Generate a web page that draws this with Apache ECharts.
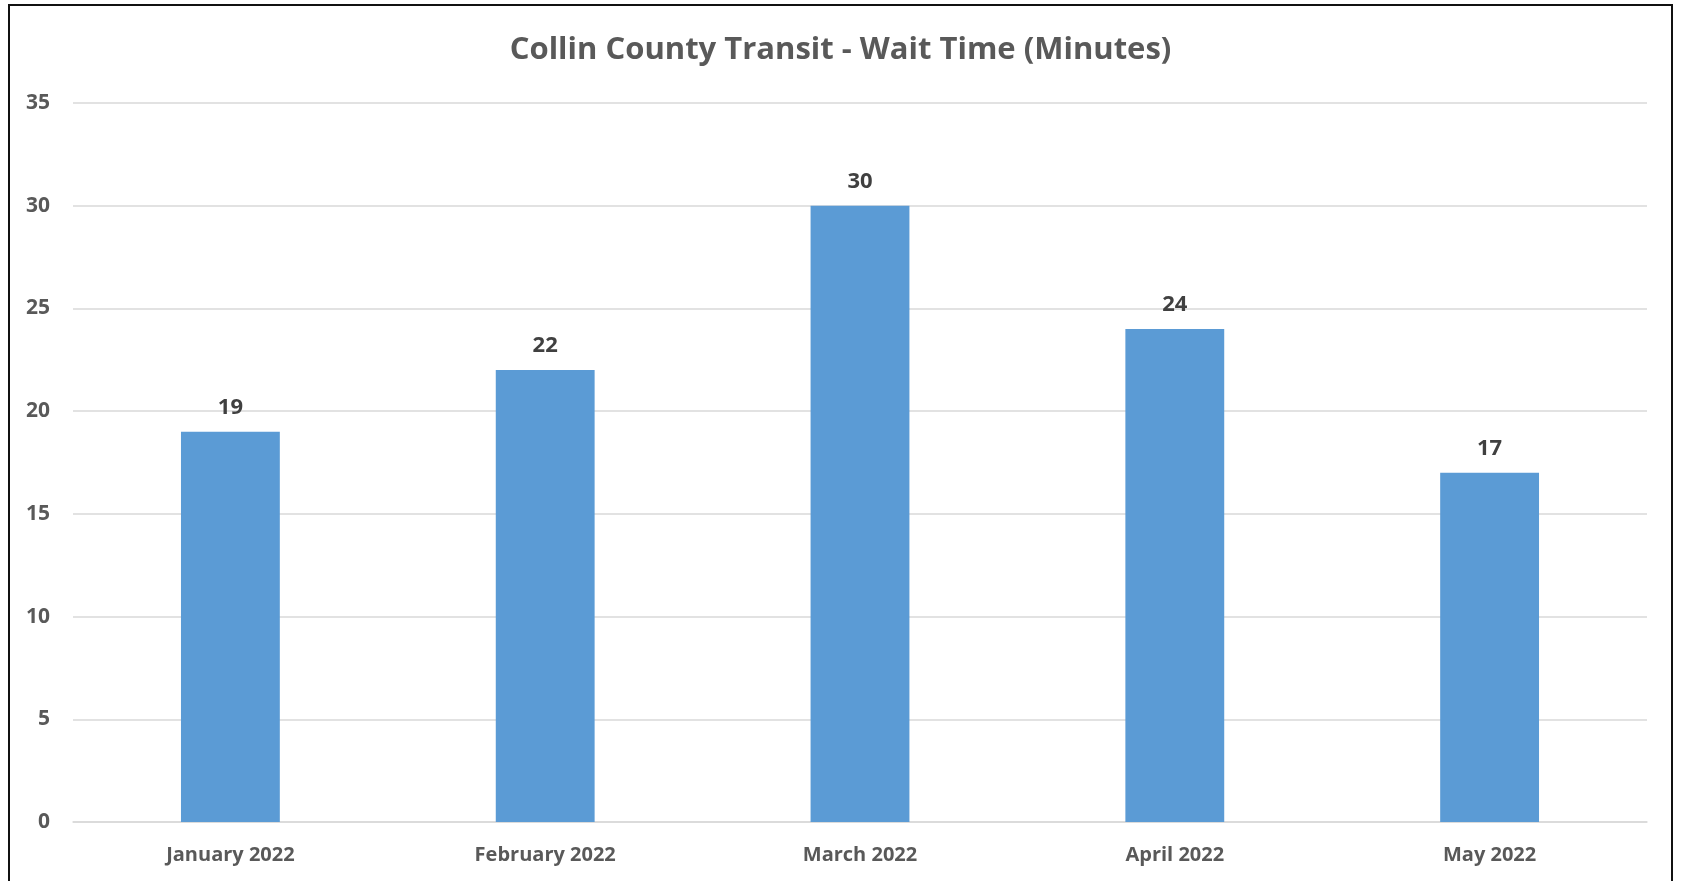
<!DOCTYPE html>
<html>
<head>
<meta charset="utf-8">
<script src="https://cdn.jsdelivr.net/npm/echarts@6/dist/echarts.min.js"></script>
<style>
html,body{margin:0;padding:0;background:#fff;}
#chart{width:1681px;height:881px;}
</style>
</head>
<body>
<div id="chart"></div>
<script>
const categories = ['January 2022', 'February 2022', 'March 2022', 'April 2022', 'May 2022'];
const waitTimes = [19, 22, 30, 24, 17];
const yTicks = { min: 0, max: 35, interval: 5 };

const chart = echarts.init(document.getElementById('chart'));
const font = '"Open Sans", "Noto Sans", sans-serif';
chart.setOption({
  backgroundColor: '#fff',
  animation: false,
  title: {
    text: 'Collin County Transit - Wait Time (Minutes)',
    left: 'center',
    top: 30,
    textStyle: { fontFamily: font, fontSize: 31, fontWeight: 'bold', color: '#595959' }
  },
  graphic: [{
    type: 'rect',
    shape: { x: 9, y: 5, width: 1663, height: 900 },
    style: { fill: 'none', stroke: '#111', lineWidth: 2 },
    silent: true
  }],
  grid: { left: 73, right: 34, top: 103, bottom: 59, containLabel: false },
  xAxis: {
    type: 'category',
    data: categories,
    axisLine: { show: true, lineStyle: { color: '#D9D9D9', width: 1.5 } },
    axisTick: { show: false },
    axisLabel: { fontFamily: font, fontSize: 20, fontWeight: 'bold', color: '#595959', margin: 23 }
  },
  yAxis: {
    type: 'value',
    min: yTicks.min, max: yTicks.max, interval: yTicks.interval,
    axisLine: { show: false },
    axisTick: { show: false },
    splitLine: { lineStyle: { color: '#D9D9D9', width: 1.5 } },
    axisLabel: { fontFamily: font, fontSize: 21, fontWeight: 'bold', color: '#595959', margin: 23 }
  },
  series: [{
    type: 'bar',
    data: waitTimes,
    barWidth: '31.4%',
    itemStyle: { color: '#5B9BD5' },
    label: {
      show: true, position: 'top', distance: 13,
      fontFamily: font, fontSize: 22, fontWeight: 'bold', color: '#404040'
    }
  }]
});
</script>
</body>
</html>
